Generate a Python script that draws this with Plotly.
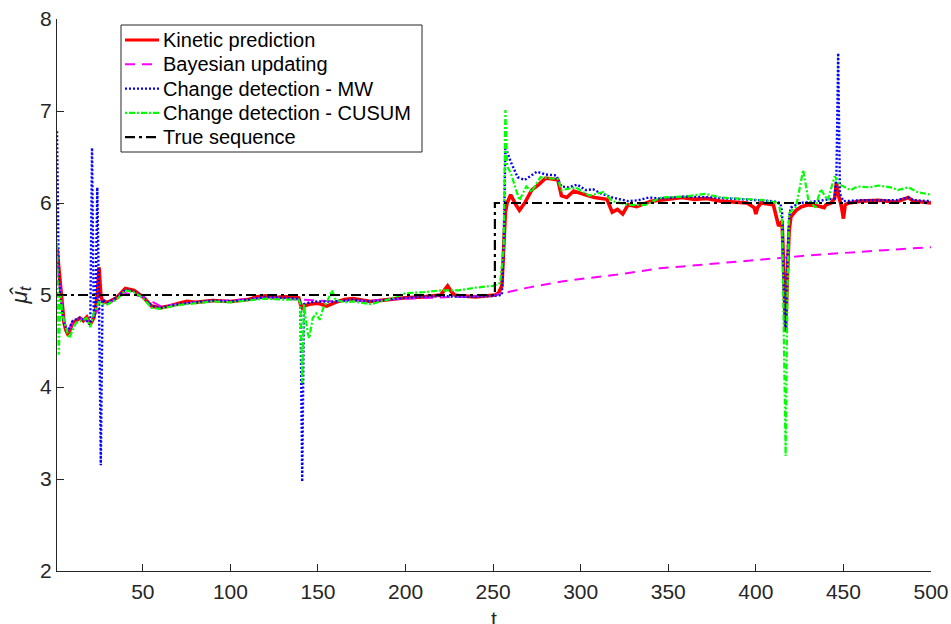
import plotly.graph_objects as go

# ---- data ----
kin_t = [1,2,3,4,5,6,7,8,10,12,14,16,18,20,22,23,24,25,26,27,30,35,40,45,50,55,60,65,70,75,80,90,100,110,115,120,125,130,135,139,140,141,142,145,150,155,160,165,170,180,190,200,210,220,224,226,228,232,240,248,251,253,255,256,257,258,260,263,265,268,272,276,280,284,287,289,292,296,300,304,308,312,315,318,321,324,327,332,340,350,358,365,372,380,388,395,399,400,401,403,410,413,415,416,417,418,419,420,423,426,430,435,439,440,443,445,446,447,449,450,451,453,460,470,480,487,490,495,500]
kin_y = [5.5,5.3,5.0,4.8,4.7,4.62,4.58,4.6,4.7,4.72,4.75,4.72,4.76,4.68,4.75,4.85,5.0,5.3,5.0,4.93,4.92,4.97,5.07,5.05,4.98,4.88,4.86,4.88,4.9,4.93,4.92,4.94,4.93,4.95,4.98,4.99,4.97,4.98,4.98,4.97,4.9,4.86,4.88,4.9,4.91,4.88,4.92,4.95,4.96,4.93,4.95,4.97,4.98,5.0,5.1,5.04,5.0,4.99,4.98,4.99,5.0,5.02,5.1,5.5,5.9,6.0,6.09,5.98,5.92,6.0,6.14,6.2,6.27,6.26,6.25,6.08,6.06,6.13,6.1,6.08,6.06,6.05,6.04,5.9,5.93,5.88,5.98,5.96,6.02,6.04,6.06,6.04,6.05,6.02,6.01,6.0,5.95,5.88,5.95,6.0,5.98,5.75,5.8,5.3,4.6,5.2,5.7,5.85,5.92,5.96,5.98,5.97,5.95,5.98,6.0,6.05,6.22,6.1,5.95,5.83,5.98,6.0,6.02,6.03,6.01,6.06,6.02,6.01,6.0]

bay_t = [1,2,3,5,7,10,15,20,25,30,40,50,60,80,100,120,140,160,180,200,230,251,270,290,320,345,370,400,430,460,500]
bay_y = [5.5,5.25,5.0,4.72,4.6,4.7,4.74,4.72,4.85,4.9,5.02,4.98,4.88,4.92,4.94,4.97,4.95,4.93,4.94,4.96,4.98,5.0,5.08,5.15,5.22,5.29,5.33,5.38,5.43,5.47,5.52]

mw_t = [1,2,3,5,7,10,14,18,20,21,22,23,24,25,26,27,30,35,40,45,50,55,60,70,80,90,100,110,120,130,139,140,141,142,145,150,160,170,180,190,200,210,220,230,240,250,255,256,257,260,264,268,272,275,280,286,289,293,298,303,307,312,318,323,327,333,339,345,360,375,390,400,410,414,415,416,417,418,419,420,425,435,445,446,447,448,450,460,480,487,490,500]
mw_y = [6.78,5.2,4.95,4.7,4.6,4.72,4.75,4.72,4.68,6.6,4.75,4.85,6.17,4.95,3.15,4.95,4.92,4.97,5.06,5.04,4.98,4.88,4.86,4.9,4.92,4.94,4.93,4.95,4.98,4.97,4.96,4.93,2.97,4.9,4.92,4.93,4.93,4.95,4.93,4.95,4.97,4.98,4.99,4.98,4.98,4.99,5.0,5.5,6.61,6.45,6.28,6.25,6.3,6.34,6.31,6.3,6.18,6.17,6.2,6.14,6.15,6.1,6.06,6.04,6.02,6.03,6.06,6.05,6.07,6.06,6.04,6.03,6.02,6.0,5.9,5.0,4.6,5.4,5.85,5.95,6.0,6.02,6.05,6.3,7.63,6.1,6.02,6.03,6.03,6.06,6.03,6.02]

cu_t = [1,2,3,4,6,8,10,12,15,18,20,22,25,27,30,35,40,45,50,55,60,65,70,80,90,100,110,120,130,139,140,141,142,144,145,147,149,151,153,155,158,160,165,170,180,190,200,210,220,230,240,250,254,256,257,258,260,263,265,269,272,277,282,287,289,297,305,313,318,327,337,346,360,371,380,395,405,413,415,416,417,418,419,423,427,430,434,437,441,445,448,454,458,465,470,477,481,487,492,500]
cu_y = [5.6,4.35,5.0,4.8,4.65,4.53,4.62,4.7,4.72,4.75,4.65,4.8,4.92,4.9,4.9,4.95,5.05,5.03,4.97,4.86,4.85,4.87,4.89,4.91,4.93,4.92,4.94,4.96,4.95,4.95,4.9,4.04,4.9,4.6,4.53,4.75,4.8,4.73,4.86,4.92,5.05,4.95,4.92,4.93,4.9,4.95,5.02,5.03,5.05,5.05,5.08,5.1,5.13,5.5,7.01,6.4,6.33,6.15,6.03,6.18,6.12,6.28,6.27,6.26,6.14,6.17,6.08,6.12,6.02,5.98,5.98,6.06,6.07,6.1,6.06,6.04,6.03,6.0,5.8,4.5,3.25,5.0,5.89,5.96,6.36,6.03,5.95,6.15,6.03,6.29,6.2,6.14,6.18,6.17,6.19,6.17,6.14,6.17,6.12,6.09]

true_t = [1,251,251,500]
true_y = [5,5,6,6]

series_names = ["Kinetic prediction", "Bayesian updating", "Change detection - MW",
                "Change detection - CUSUM", "True sequence"]
x_ticks = [50,100,150,200,250,300,350,400,450,500]
y_ticks = [2,3,4,5,6,7,8]
x_title = "t"
y_title = "<i>μ̂</i><sub><i>t</i></sub>"

# ---- styling ----
FONT = "Liberation Sans, Arial, sans-serif"
AX = "#262626"
styles = [
    dict(color="#ff0000", width=3.6, dash="solid"),
    dict(color="#ff00ff", width=2, dash="10px,7px"),
    dict(color="#0000ff", width=2.4, dash="2px,2px"),
    dict(color="#00ff00", width=2.2, dash="2px,2px,6px,2px"),
    dict(color="#000000", width=2.2, dash="10px,4px,3px,4px"),
]
data = [(kin_t, kin_y), (bay_t, bay_y), (mw_t, mw_y), (cu_t, cu_y), (true_t, true_y)]

W, H = 951, 624
ML, MR, MT, MB = 57, 20, 19, 53
PW, PH = W - ML - MR, H - MT - MB

fig = go.Figure()
for (xs, ys), nm, st in zip(data, series_names, styles):
    fig.add_trace(go.Scatter(x=xs, y=ys, mode="lines", name=nm, line=st, showlegend=False))

# manual MATLAB-like legend (box, sample lines, labels) in paper coordinates
def px_x(p):
    return (p - ML) / PW

def px_y(p):
    return (H - MB - p) / PH

shapes = [dict(type="rect", xref="paper", yref="paper",
               x0=px_x(121), x1=px_x(422), y0=px_y(152), y1=px_y(25),
               line=dict(color=AX, width=1), fillcolor="white", layer="above")]
annotations = []
for i, (nm, st) in enumerate(zip(series_names, styles)):
    yc = 40 + i * 24.3
    shapes.append(dict(type="line", xref="paper", yref="paper",
                       x0=px_x(125), x1=px_x(159), y0=px_y(yc), y1=px_y(yc),
                       line=dict(color=st["color"], width=min(st["width"], 3),
                                 dash=st["dash"]), layer="above"))
    annotations.append(dict(xref="paper", yref="paper", x=px_x(161), y=px_y(yc),
                            xanchor="left", yanchor="middle", text=nm, showarrow=False,
                            font=dict(family=FONT, size=20, color="#000000")))

# x-axis title placed below the tick labels (partly clipped as in the reference)
annotations.append(dict(xref="paper", yref="paper", x=0.5, y=px_y(618),
                        xanchor="center", yanchor="middle", text=x_title, showarrow=False,
                        font=dict(family=FONT, size=21, color=AX)))

fig.update_layout(
    width=W, height=H,
    margin=dict(l=ML, r=MR, t=MT, b=MB, autoexpand=False),
    paper_bgcolor="white", plot_bgcolor="white",
    font=dict(family=FONT, color=AX, size=21),
    showlegend=False,
    shapes=shapes, annotations=annotations,
)
fig.update_xaxes(range=[1, 500], tickvals=x_ticks, ticktext=[str(v) for v in x_ticks],
                 ticks="inside", ticklen=7, tickcolor=AX, tickwidth=1,
                 showline=True, linecolor=AX, linewidth=1, mirror=False,
                 showgrid=False, zeroline=False, ticklabelstandoff=2, automargin=False,
                 tickfont=dict(family=FONT, size=21, color=AX))
fig.update_yaxes(range=[2, 8], tickvals=y_ticks, ticktext=[str(v) for v in y_ticks],
                 ticks="inside", ticklen=7, tickcolor=AX, tickwidth=1,
                 showline=True, linecolor=AX, linewidth=1, mirror=False,
                 showgrid=False, zeroline=False, automargin=False,
                 tickfont=dict(family=FONT, size=21, color=AX),
                 title=dict(text=y_title, font=dict(family=FONT, size=23, color=AX), standoff=6))

fig.write_html("out.html")
